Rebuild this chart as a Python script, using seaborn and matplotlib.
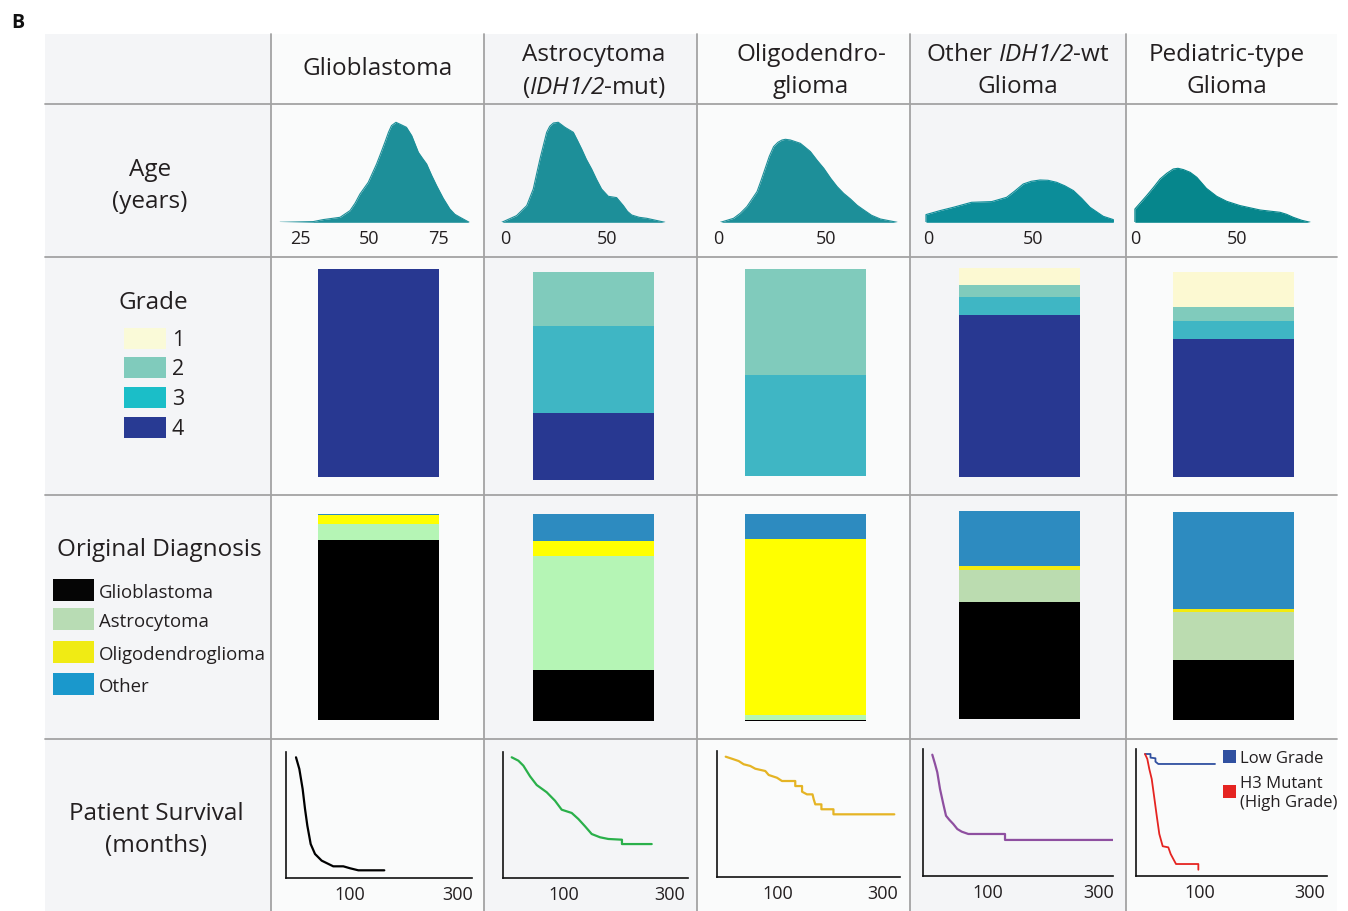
import matplotlib
matplotlib.use("Agg")
import matplotlib.pyplot as plt
import seaborn as sns
from matplotlib.patches import Rectangle

# ------------------------------------------------------------------ data
col_titles = [["Glioblastoma"],
              ["Astrocytoma", r"($\mathrm{IDH1/2}$-mut)"],
              ["Oligodendro-", "glioma"],
              [r"Other $\mathrm{IDH1/2}$-wt", "Glioma"],
              ["Pediatric-type", "Glioma"]]

# Age density curves (age in years, relative density)
age_gbm_x = [17.8, 29.8, 33.4, 39.5, 43.1, 44.9, 46.7, 49.7, 52.7, 54.2, 55.7, 57.0, 58.1, 59.7, 61.8, 63.5, 65.4, 67.8, 69.3, 70.8, 72.6, 74.4, 76.8, 79.2, 81.0, 82.9, 86.2]
age_gbm_y = [0, 0.7, 2.7, 5, 11.7, 19, 28.3, 40, 58.3, 69, 80, 90, 96.7, 100, 97.3, 95, 86.7, 70, 64, 58.3, 47, 36.7, 24, 13.3, 8, 5, 0]
age_astro_x = [-1.6, 5.7, 10.7, 13.9, 15.5, 17.2, 19.0, 20.5, 22.0, 23.8, 26.2, 29.5, 33.6, 35.6, 37.7, 40.0, 42.6, 45.0, 47.5, 50.8, 54.9, 58.2, 60.2, 62.3, 66.0, 69.7, 78.7]
age_astro_y = [0, 6.7, 16.7, 33.3, 48, 63.3, 78, 90, 96, 99.3, 100, 95, 90, 82, 73.3, 63, 53.3, 43, 33.3, 26, 24.7, 16.7, 11, 7.3, 5, 4, 0]
age_oligo_x = [0.8, 6.9, 10.0, 13.1, 17.8, 19.7, 21.6, 23.5, 25.5, 27.5, 29.4, 31.0, 33.3, 37.9, 40.2, 42.6, 45.7, 48.8, 52.0, 55, 58.0, 61.2, 64.3, 67.4, 71.0, 75.1, 82.9]
age_oligo_y = [0, 4, 9, 15.7, 30.7, 42, 54, 66, 75.7, 80, 82.3, 83, 82.3, 79, 75, 70.7, 62, 54, 44, 35.7, 29, 23.3, 17, 12.3, 7, 3.3, 0]
age_other_x = [-1.1, -1.1, 5.6, 11.9, 20.6, 30.2, 37.3, 41.0, 45.2, 49.0, 53.2, 57.0, 61.1, 65.0, 69.1, 73.0, 77, 83.3, 88.1, 88.1]
age_other_y = [0, 7.7, 11.7, 15, 20, 20.7, 25, 31, 38.3, 41, 42.3, 42, 40, 36.5, 31.7, 24, 15, 6, 2.7, 0]
age_ped_x = [-0.2, -0.2, 5.6, 9.0, 12.2, 15.5, 18.7, 21.0, 23.7, 27.0, 30.3, 35.0, 40.1, 45.0, 51.6, 61.5, 71.3, 74.5, 77.8, 82.0, 86.2]
age_ped_y = [0, 13.3, 26.7, 35, 43.3, 49, 53.3, 54, 52.7, 50, 45, 34, 26, 21, 16.7, 12.3, 10, 8, 5, 2, 0]
age_ticks = [[25, 50, 75], [0, 50], [0, 50], [0, 50], [0, 50]]

# Grade composition (%), order: grade 1, 2, 3, 4
grade_labels = ["1", "2", "3", "4"]
grade_gbm = [0, 0, 0, 100]
grade_astro = [0, 26.0, 41.8, 32.2]
grade_oligo = [0, 51.2, 48.8, 0]
grade_other = [8.0, 6.1, 8.3, 77.6]
grade_ped = [16.9, 7.2, 8.8, 67.1]

# Original diagnosis composition (%), order: Glioblastoma, Astrocytoma, Oligodendroglioma, Other
diag_labels = ["Glioblastoma", "Astrocytoma", "Oligodendroglioma", "Other"]
diag_gbm = [87.3, 8.0, 4.2, 0.5]
diag_astro = [24.6, 55.2, 7.0, 13.2]
diag_oligo = [0.5, 2.2, 85.1, 12.2]
diag_other = [56.1, 15.7, 1.9, 26.3]
diag_ped = [28.7, 23.2, 1.7, 46.4]

# Survival curves (months, fraction surviving)
surv_gbm_m = [0, 6.2, 12.3, 16.7, 21, 27.2, 35.2, 47.5, 69, 87.6, 100, 115.4, 163.5]
surv_gbm_s = [1.0, 0.903, 0.738, 0.573, 0.435, 0.283, 0.201, 0.146, 0.099, 0.099, 0.083, 0.066, 0.066]
surv_astro_m = [0, 12.7, 22.2, 34.9, 47.6, 66.7, 82.5, 95.2, 114.3, 127, 139.6, 152.4, 168.2, 184, 210, 210, 266.7]
surv_astro_s = [1.0, 0.972, 0.931, 0.843, 0.771, 0.711, 0.641, 0.567, 0.540, 0.490, 0.430, 0.366, 0.339, 0.325, 0.319, 0.283, 0.283]
surv_oligo_m = [0, 12, 24.8, 34.4, 47, 56.6, 75.7, 82.2, 98.1, 107.6, 133, 133, 146, 146, 155.4, 166, 168.3, 171.3, 183, 183, 206, 206, 322.4]
surv_oligo_s = [1.0, 0.983, 0.964, 0.937, 0.923, 0.9, 0.881, 0.848, 0.825, 0.798, 0.798, 0.756, 0.756, 0.709, 0.687, 0.687, 0.646, 0.604, 0.604, 0.563, 0.563, 0.521, 0.521]
surv_other_m = [0, 4.9, 9, 13.9, 19.8, 24.7, 30.6, 37.8, 45, 53, 64.9, 131, 131, 326]
surv_other_s = [1.0, 0.924, 0.855, 0.718, 0.595, 0.498, 0.465, 0.430, 0.389, 0.367, 0.348, 0.348, 0.299, 0.299]
surv_low_m = [0, 10, 10, 19, 19, 24.2, 127.3]
surv_low_s = [1.0, 1.0, 0.970, 0.965, 0.937, 0.918, 0.918]
surv_h3_m = [0, 4.2, 7.8, 12.2, 16.4, 21.3, 26, 32.2, 42.4, 46.7, 51.5, 56.4, 97, 97]
surv_h3_s = [1.0, 0.959, 0.877, 0.795, 0.657, 0.493, 0.343, 0.242, 0.233, 0.178, 0.137, 0.096, 0.096, 0.049]
surv_ticks = [100, 300]
ped_legend = ["Low Grade", "H3 Mutant\n(High Grade)"]

# ------------------------------------------------------------------ style
age_colors = ["#1d8f99", "#1d8f99", "#1d8f99", "#0c8d99", "#06868c"]
grade_bar_colors = ["#fcf9d2", "#80cbbc", "#3fb6c4", "#283891"]
grade_leg_colors = ["#fafad8", "#80cbbc", "#1bbec8", "#283a93"]
diag_bar_colors = [["#000000", "#b5f5b5", "#ffff00", "#2d8bc0"]] * 3 + [["#000000", "#bbdcb0", "#f3ea10", "#2d8bc0"]] * 2
diag_leg_colors = ["#050505", "#b8dcb4", "#f0eb14", "#1a98cc"]
surv_colors = ["#000000", "#2ab04a", "#e5b424", "#8e4fa0"]
low_color, h3_color = "#3050a0", "#e52421"
txt = "#231f20"

sns.set_style("white")
FONT = ["Open Sans", "DejaVu Sans"]
plt.rcParams["font.family"] = FONT
plt.rcParams["mathtext.fontset"] = "custom"
plt.rcParams["mathtext.rm"] = "Open Sans:italic"
plt.rcParams["mathtext.it"] = "Open Sans:italic"

W, H = 1348, 912
fig = plt.figure(figsize=(W / 100, H / 100), dpi=100)
fig.patch.set_facecolor("white")


def px_axes(x0, y0, x1, y1):
    ax = fig.add_axes([x0 / W, 1 - y1 / H, (x1 - x0) / W, (y1 - y0) / H])
    ax.patch.set_alpha(0)
    return ax


# background table
bg = fig.add_axes([0, 0, 1, 1], zorder=-10)
bg.set_xlim(0, W)
bg.set_ylim(H, 0)
bg.axis("off")
col_edges = [45, 271, 484, 697, 910, 1126, 1337]
row_lines = [105, 258, 496, 740]
for i in range(6):
    bg.add_patch(Rectangle((col_edges[i], 35), col_edges[i + 1] - col_edges[i], H - 35,
                           facecolor="#f4f5f7" if i % 2 == 0 else "#fafbfb", edgecolor="none"))
for y in row_lines:
    bg.plot([45, 1337], [y, y], color="#a3a3a3", lw=1.3)
for x in col_edges[1:-1]:
    bg.plot([x, x], [35, H], color="#a3a3a3", lw=1.3)

DY = 2  # text vertical nudge
bg.text(11, 21 + DY, "B", fontsize=14, fontweight="bold", ha="left", va="center", color="#111")

HS = 17.5
centers = [378, 594, 811, 1018, 1227]
for c, lines in zip(centers, col_titles):
    if len(lines) == 1:
        bg.text(c, 67 + DY, lines[0], fontsize=HS, ha="center", va="center", color=txt)
    else:
        bg.text(c, 53 + DY, lines[0], fontsize=HS, ha="center", va="center", color=txt)
        bg.text(c, 85 + DY, lines[1], fontsize=HS, ha="center", va="center", color=txt)

# row labels
bg.text(150, 168 + DY, "Age", fontsize=HS, ha="center", va="center", color=txt)
bg.text(150, 200 + DY, "(years)", fontsize=HS, ha="center", va="center", color=txt)
bg.text(153, 301 + DY, "Grade", fontsize=HS, ha="center", va="center", color=txt)
bg.text(159, 548 + DY, "Original Diagnosis", fontsize=HS, ha="center", va="center", color=txt)
bg.text(156, 812 + DY, "Patient Survival", fontsize=HS, ha="center", va="center", color=txt)
bg.text(156, 844 + DY, "(months)", fontsize=HS, ha="center", va="center", color=txt)

# grade legend
for lab, col, yc in zip(grade_labels, grade_leg_colors, [339, 368, 398, 428]):
    bg.add_patch(Rectangle((124, yc - 10.5), 42, 21, facecolor=col, edgecolor="none"))
    bg.text(172, yc + DY, lab, fontsize=15.5, ha="left", va="center", color=txt)

# diagnosis legend
for lab, col, yc in zip(diag_labels, diag_leg_colors, [591, 620, 653, 685]):
    bg.add_patch(Rectangle((53, yc - 11), 41, 22, facecolor=col, edgecolor="none"))
    bg.text(99, yc + DY, lab, fontsize=13.4, ha="left", va="center", color=txt)

# ------------------------------------------------------------------ age row
age_x = [age_gbm_x, age_astro_x, age_oligo_x, age_other_x, age_ped_x]
age_y = [age_gbm_y, age_astro_y, age_oligo_y, age_other_y, age_ped_y]
# (pixel of age 0, pixels per year, left px, right px)
age_geom = [(230.8, 2.766, 276, 474), (505, 2.033, 498, 670), (718.7, 2.153, 712, 900),
            (928.3, 2.10, 922, 1118), (1135.3, 2.03, 1130, 1318)]
for i in range(5):
    p0, sc, x0, x1 = age_geom[i]
    ax = px_axes(x0, 113.3, x1, 223.3)
    ax.fill_between(age_x[i], age_y[i], 0, color=age_colors[i], lw=0)
    sns.lineplot(x=age_x[i], y=age_y[i], color=age_colors[i], lw=0.8, ax=ax,
                 estimator=None, sort=False)
    ax.set_xlim((x0 - p0) / sc, (x1 - p0) / sc)
    ax.set_ylim(0, 110)
    ax.set_xticks(age_ticks[i])
    ax.set_xticklabels([str(t) for t in age_ticks[i]])
    ax.set_yticks([])
    ax.tick_params(axis="x", length=0, pad=5, labelsize=13, labelcolor=txt)
    for s in ax.spines.values():
        s.set_visible(False)
    ax.set_xlabel("")
    ax.set_ylabel("")

# ------------------------------------------------------------------ stacked bars
bar_centers = [378, 593, 805, 1019, 1233]
bar_w = 121


def stacked(ax, values, colors):
    cum = []
    tot = 0
    for v in values:
        tot += v
        cum.append(tot)
    for k in range(len(values) - 1, -1, -1):
        if values[k] <= 0:
            continue
        sns.barplot(x=[0], y=[cum[k]], color=colors[k], saturation=1, width=0.8,
                    linewidth=0, ax=ax)
    ax.set_xlim(-0.5, 0.5)
    ax.set_ylim(0, 100)
    ax.axis("off")


grade_tops = [270, 273, 270, 269, 273]
grade_bottoms = [478, 481, 477, 478, 478]
grades = [grade_gbm, grade_astro, grade_oligo, grade_other, grade_ped]
for i in range(5):
    aw = bar_w / 0.8
    ax = px_axes(bar_centers[i] - aw / 2, grade_tops[i], bar_centers[i] + aw / 2, grade_bottoms[i])
    stacked(ax, grades[i][::-1], grade_bar_colors[::-1])

diags = [diag_gbm, diag_astro, diag_oligo, diag_other, diag_ped]
diag_tops = [515, 515, 515, 512, 513]
diag_bottoms = [721, 722, 722, 720, 721]
for i in range(5):
    aw = bar_w / 0.8
    ax = px_axes(bar_centers[i] - aw / 2, diag_tops[i], bar_centers[i] + aw / 2, diag_bottoms[i])
    stacked(ax, diags[i], diag_bar_colors[i])

# ------------------------------------------------------------------ survival
surv_m = [surv_gbm_m, surv_astro_m, surv_oligo_m, surv_other_m]
surv_s = [surv_gbm_s, surv_astro_s, surv_oligo_s, surv_other_s]
# (px of month 0, px per month, left, right, top, bottom, px of 100%)
surv_geom = [(296, 0.54, 286, 471.7, 752.7, 879.3, 758.3),
             (511.7, 0.525, 502.7, 687.7, 752.7, 879.3, 758.3),
             (725.7, 0.523, 717, 900.3, 752, 878, 757.7),
             (932.3, 0.555, 923.3, 1113.3, 750, 877.3, 755.7),
             (1145, 0.55, 1136, 1327.3, 750, 876.7, 755)]


def surv_axes(g):
    p0, sc, x0, x1, yt, yb, y100 = g
    ax = px_axes(x0, yt, x1, yb)
    ax.set_xlim((x0 - p0) / sc, (x1 - p0) / sc)
    ax.set_ylim(0, (yb - yt) / (yb - y100))
    return ax


def finish(ax):
    ax.set_xticks(surv_ticks)
    ax.set_xticklabels([str(t) for t in surv_ticks])
    ax.set_yticks([])
    ax.tick_params(axis="x", length=0, pad=5, labelsize=13, labelcolor=txt)
    for k in ["top", "right"]:
        ax.spines[k].set_visible(False)
    for k in ["left", "bottom"]:
        ax.spines[k].set_visible(True)
        ax.spines[k].set_color("#111")
        ax.spines[k].set_linewidth(1.2)
    ax.set_xlabel("")
    ax.set_ylabel("")


for i in range(4):
    ax = surv_axes(surv_geom[i])
    sns.lineplot(x=surv_m[i], y=surv_s[i], color=surv_colors[i], lw=1.6, ax=ax,
                 estimator=None, sort=False)
    finish(ax)

ax = surv_axes(surv_geom[4])
sns.lineplot(x=surv_low_m, y=surv_low_s, color=low_color, lw=1.3, ax=ax, estimator=None, sort=False)
sns.lineplot(x=surv_h3_m, y=surv_h3_s, color=h3_color, lw=1.3, ax=ax, estimator=None, sort=False)
finish(ax)

bg.add_patch(Rectangle((1223, 750.5), 13, 13, facecolor=low_color, edgecolor="none"))
bg.text(1240, 757 + DY, ped_legend[0], fontsize=12, ha="left", va="center", color=txt)
bg.add_patch(Rectangle((1223, 786.5), 13, 13, facecolor=h3_color, edgecolor="none"))
bg.text(1240, 792 + DY, ped_legend[1], fontsize=12, ha="left", va="center", color=txt, linespacing=1.25)

fig.savefig("out.png", dpi=100, facecolor="white")
